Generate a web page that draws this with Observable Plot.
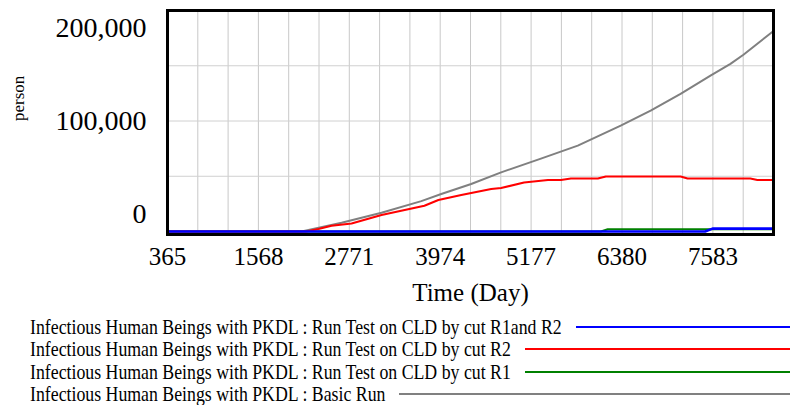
<!DOCTYPE html>
<html>
<head>
<meta charset="utf-8">
<script src="https://cdn.jsdelivr.net/npm/d3@7"></script>
<script src="https://cdn.jsdelivr.net/npm/@observablehq/plot@0.6"></script>
<style>
  html, body { margin: 0; padding: 0; background: #fff; }
  #chart svg { display: block; }
  #legend { font-family: "Liberation Serif", "Times New Roman", serif; font-size: 17.8px; color: #000; padding: 4px 0 0 30px; width: 760px; }
  .row { display: flex; align-items: center; height: 22.3px; line-height: 22.3px; white-space: nowrap; }
  .row .tx { display: inline-block; transform: scaleY(1.12); transform-origin: center; }
  .row .ln { flex: 1; margin-left: 14px; height: 2px; }
</style>
</head>
<body>
<div id="chart"></div>
<div id="legend"></div>
<script>
// ---- Data ----
const xTicks = [365, 1568, 2771, 3974, 5177, 6380, 7583];
const yTicks = [0, 100000, 200000];
const xDomain = [365, 8385];
const yDomain = [0, 200000];
const gridYValues = [50000, 100000, 150000];
const xTitle = "Time (Day)";
const yTitle = "person";

const basicDay   = [365, 2140, 2669, 3197, 3724, 3988, 4384, 4780, 5307, 5795, 6363, 6759, 7155, 7551, 7815, 7987, 8385];
const basicValue = [0, 0, 8000, 17000, 27500, 33900, 43000, 53500, 66000, 77700, 95800, 109400, 124500, 141100, 151700, 160000, 181500];

const cutR2Day   = [365, 2200, 2361, 2537, 2801, 3197, 3765, 3950, 4253, 4649, 4780, 5084, 5400, 5572, 5704, 6060, 6166, 7155, 7248, 8079, 8171, 8385];
const cutR2Value = [0, 0, 2200, 5200, 7300, 14900, 23300, 28500, 33000, 38400, 39300, 44400, 46600, 46600, 48000, 48000, 49800, 49800, 48000, 48000, 46600, 46600];

const cutR1Day   = [365, 6100, 6191, 8385];
const cutR1Value = [0, 0, 2000, 2000];

const cutR1R2Day   = [365, 7480, 7578, 8385];
const cutR1R2Value = [0, 0, 2600, 2600];

const seriesNames = [
  "Infectious Human Beings with PKDL : Run Test on CLD by cut R1and R2",
  "Infectious Human Beings with PKDL : Run Test on CLD by cut R2",
  "Infectious Human Beings with PKDL : Run Test on CLD by cut R1",
  "Infectious Human Beings with PKDL : Basic Run"
];
const seriesColors = ["#0000ff", "#ff0000", "#008000", "#808080"];

// ---- Build tables ----
const toRows = (days, vals) => days.map((d, i) => ({day: d, value: vals[i]}));
const basic = toRows(basicDay, basicValue);
const r2 = toRows(cutR2Day, cutR2Value);
const r1 = toRows(cutR1Day, cutR1Value);
const r1r2 = toRows(cutR1R2Day, cutR1R2Value);
const gridXValues = d3.range(0, 21).map(i => xDomain[0] + i * (xDomain[1] - xDomain[0]) / 20);

const font = "Liberation Serif, Times New Roman, serif";

const chart = Plot.plot({
  width: 790,
  height: 312,
  marginLeft: 167,
  marginRight: 17,
  marginTop: 10,
  marginBottom: 81,
  style: {fontFamily: font, color: "#000", background: "#fff", overflow: "visible"},
  x: {domain: xDomain, axis: null},
  y: {domain: yDomain, axis: null},
  marks: [
    Plot.ruleX(gridXValues, {stroke: "#c8c8c8", strokeWidth: 1, insetBottom: -3}),
    Plot.ruleY(gridYValues, {stroke: "#d0d0d0", strokeWidth: 1}),
    Plot.line(basic, {x: "day", y: "value", stroke: seriesColors[3], strokeWidth: 2}),
    Plot.line(r1, {x: "day", y: "value", stroke: seriesColors[2], strokeWidth: 2}),
    Plot.line(r2, {x: "day", y: "value", stroke: seriesColors[1], strokeWidth: 2}),
    Plot.line(r1r2, {x: "day", y: "value", stroke: seriesColors[0], strokeWidth: 2.6}),
    Plot.frame({stroke: "#000", strokeWidth: 3, insetBottom: -3}),
    Plot.axisX(xTicks, {tickSize: 0, tickPadding: 15.4, fontSize: 25, label: null, tickFormat: d => String(d), ariaLabel: "x-ticks"}),
    Plot.axisY([yTicks[2]], {tickSize: 0, tickPadding: 21, dy: 17.5, fontSize: 28, label: null, tickFormat: d3.format(",")}),
    Plot.axisY([yTicks[1]], {tickSize: 0, tickPadding: 21, dy: 0, fontSize: 28, label: null, tickFormat: d3.format(",")}),
    Plot.axisY([yTicks[0]], {tickSize: 0, tickPadding: 21, dy: -17, fontSize: 28, label: null, tickFormat: d3.format(",")}),
    Plot.text([xTitle], {text: d => d, frameAnchor: "bottom", dy: 69, fontSize: 25, ariaLabel: "x-title"}),
    Plot.text([yTitle], {text: d => d, frameAnchor: "left", rotate: -90, dx: -149, fontSize: 17})
  ]
});
document.getElementById("chart").appendChild(chart);

// vertical stretch of the bottom texts (the original renders them taller than wide)
function stretch(selector, s) {
  chart.querySelectorAll(selector).forEach(t => {
    const tr = t.getAttribute("transform") || "";
    t.setAttribute("transform", tr + ` scale(1,${s})`);
  });
}
stretch('g[aria-label="x-ticks"] text', 1.18);
stretch('g[aria-label="x-title"] text', 1.24);

// ---- Legend ----
const legend = document.getElementById("legend");
seriesNames.forEach((name, i) => {
  const row = document.createElement("div");
  row.className = "row";
  const t = document.createElement("span");
  t.className = "tx";
  t.textContent = name;
  const l = document.createElement("span");
  l.className = "ln";
  l.style.background = seriesColors[i];
  row.appendChild(t);
  row.appendChild(l);
  legend.appendChild(row);
});
</script>
</body>
</html>
